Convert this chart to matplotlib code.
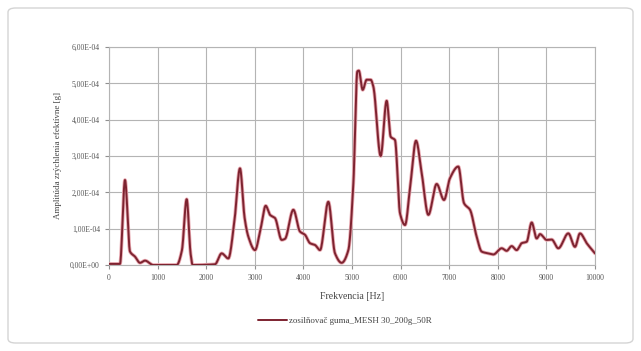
import numpy as np
import matplotlib
matplotlib.use("Agg")
import matplotlib.pyplot as plt
from matplotlib.patches import FancyBboxPatch

# Spectrum samples: frequency [Hz] and effective acceleration amplitude [g]
freq_hz = [0, 123, 226, 329, 432, 535, 638, 741, 912, 1393, 1500, 1598, 1680, 1722,
           2181, 2318, 2455, 2580, 2695, 2790, 2867, 3004, 3120, 3224, 3313, 3416, 3553,
           3621, 3793, 3930, 4033, 4136, 4239, 4342, 4513, 4650, 4787, 4925, 5028, 5110,
           5140, 5220, 5302, 5384, 5439, 5590, 5713, 5796, 5884, 5988, 6091, 6200, 6317,
           6434, 6571, 6742, 6893, 7016, 7188, 7305, 7428, 7565, 7668, 7805, 7908, 8080,
           8182, 8285, 8388, 8491, 8594, 8697, 8800, 8868, 9006, 9109, 9245, 9451, 9588,
           9691, 9829, 10000]
amp_e4 = [0.03, 0.03, 0.03, 2.34, 0.37, 0.23, 0.06, 0.12, 0.0, 0.0, 0.4, 1.81, 0.3, 0.0,
          0.02, 0.32, 0.18, 1.2, 2.66, 1.3, 0.78, 0.41, 1.0, 1.63, 1.38, 1.29, 0.69,
          0.72, 1.52, 0.92, 0.83, 0.6, 0.55, 0.41, 1.74, 0.32, 0.06, 0.41, 2.25, 5.33,
          5.35, 4.82, 5.1, 5.1, 4.91, 3.0, 4.52, 3.53, 3.44, 1.42, 1.1, 2.2, 3.42,
          2.53, 1.38, 2.23, 1.79, 2.39, 2.71, 1.7, 1.52, 0.78, 0.37, 0.32, 0.29, 0.46,
          0.39, 0.52, 0.41, 0.6, 0.64, 1.17, 0.73, 0.85, 0.69, 0.7, 0.46, 0.87, 0.5,
          0.87, 0.6, 0.32]
amplitude_g = [v * 1e-4 for v in amp_e4]

x_ticks = [0, 1000, 2000, 3000, 4000, 5000, 6000, 7000, 8000, 9000, 10000]
y_ticks = [0, 1e-4, 2e-4, 3e-4, 4e-4, 5e-4, 6e-4]
y_tick_labels = ["0,00E+00", "1,00E-04", "2,00E-04", "3,00E-04",
                 "4,00E-04", "5,00E-04", "6,00E-04"]
series_label = "zosilňovač guma_MESH 30_200g_50R"
x_label = "Frekvencia [Hz]"
y_label = "Amplitúda zrýchlenia efektívne [g]"


def pchip_curve(xs, ys, n=20):
    """Monotone cubic (PCHIP) smoothing of the sampled polyline."""
    x = np.asarray(xs, float)
    y = np.asarray(ys, float)
    h = np.diff(x)
    d = np.diff(y) / h
    m = np.zeros_like(y)
    for k in range(1, len(x) - 1):
        if d[k - 1] * d[k] > 0:
            w1 = 2 * h[k] + h[k - 1]
            w2 = h[k] + 2 * h[k - 1]
            m[k] = (w1 + w2) / (w1 / d[k - 1] + w2 / d[k])
    m[0] = d[0]
    m[-1] = d[-1]
    outx, outy = [], []
    t = np.linspace(0, 1, n, endpoint=False)
    for k in range(len(x) - 1):
        h00 = 2 * t ** 3 - 3 * t ** 2 + 1
        h10 = t ** 3 - 2 * t ** 2 + t
        h01 = -2 * t ** 3 + 3 * t ** 2
        h11 = t ** 3 - t ** 2
        outx.extend(x[k] + t * h[k])
        outy.extend(h00 * y[k] + h10 * h[k] * m[k] + h01 * y[k + 1] + h11 * h[k] * m[k + 1])
    outx.append(x[-1])
    outy.append(y[-1])
    return np.array(outx), np.array(outy)


fig = plt.figure(figsize=(6.41, 3.51), dpi=100)
fig.patch.set_facecolor("white")

# light rounded frame around the chart
frame = FancyBboxPatch((8 / 641, 8 / 351), 625 / 641, 335 / 351,
                       boxstyle="round,pad=0,rounding_size=0.012",
                       transform=fig.transFigure, fill=False,
                       edgecolor="#d4d4d4", linewidth=1.0)
fig.patches.append(frame)

ax = fig.add_axes([109 / 641, 1 - 265 / 351, (595 - 109) / 641, (265 - 47) / 351])

sx, sy = pchip_curve(freq_hz, amplitude_g)
ax.plot(sx, sy, color="#e8a8b0", lw=2.6, solid_capstyle="round", zorder=3)
line, = ax.plot(sx, sy, color="#7d2330", lw=1.4, solid_capstyle="round", zorder=4,
                label=series_label)

ax.set_xlim(0, 10000)
ax.set_ylim(0, 6e-4)
ax.set_xticks(x_ticks)
ax.set_xticklabels([str(v) for v in x_ticks])
ax.set_yticks(y_ticks)
ax.set_yticklabels(y_tick_labels)
ax.grid(True, color="#b4b4b4", lw=0.8)
ax.set_axisbelow(True)
for s in ax.spines.values():
    s.set_color("#b4b4b4")
    s.set_linewidth(0.8)
ax.tick_params(axis="both", colors="#909090", length=3, width=0.8,
               labelsize=5.5, labelcolor="#555555")
for lab in ax.get_xticklabels() + ax.get_yticklabels():
    lab.set_fontfamily("Liberation Serif")

ax.set_xlabel(x_label, fontsize=7, family="Liberation Serif", color="#444444", labelpad=7)
ax.set_ylabel(y_label, fontsize=6.5, family="Liberation Serif", color="#444444", labelpad=6)

fig.legend(handles=[line], loc="center", bbox_to_anchor=(345 / 641, 1 - 321 / 351),
           frameon=False, prop={"family": "Liberation Serif", "size": 6.5},
           labelcolor="#444444", handlelength=3.2, handletextpad=0.3)

fig.savefig("out.png", dpi=100, facecolor="white")
